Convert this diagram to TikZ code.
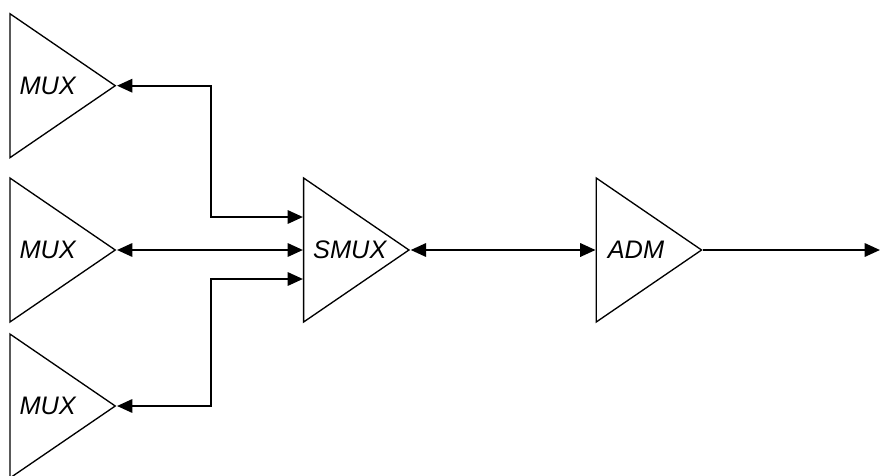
\documentclass[tikz,border=0pt]{standalone}
\usepackage{fontspec}
\setmainfont{Liberation Sans}
\usetikzlibrary{shapes.geometric,arrows.meta,positioning,calc}

\begin{document}
\begin{tikzpicture}[
    x=0.75pt,y=-0.75pt,
    >={Triangle[length=11.5pt,width=10pt]},
    block/.style={draw,line width=1pt,isosceles triangle,isosceles triangle stretches,
        minimum width=108pt,minimum height=79pt,inner sep=0pt,anchor=apex},
    lbl/.style={font=\fontsize{19}{22}\selectfont\itshape,inner sep=0pt},
    link/.style={line width=1.7pt}
]
\useasboundingbox (0,0) rectangle (881,475);

% triangles
\node[block] (mux1) at (117,85.7) {};
\node[block] (mux2) at (117,250) {};
\node[block] (mux3) at (117,406) {};
\node[block] (smux) at (410.7,250) {};
\node[block] (adm)  at (703.3,250) {};

% labels
\node[lbl,right=7.5pt of mux1.lower side] (mux1txt) {MUX};
\node[lbl,right=7.5pt of mux2.lower side] (mux2txt) {MUX};
\node[lbl,right=7.5pt of mux3.lower side] (mux3txt) {MUX};
\node[lbl,right=7.5pt of smux.lower side] (smuxtxt) {SMUX};
\node[lbl,right=9pt of adm.lower side] (admtxt) {ADM};

% inputs of SMUX and the bus line
\coordinate (in1) at ($(smux.lower side)+(0,-33)$);
\coordinate (in3) at ($(smux.lower side)+(0,29)$);
\coordinate (bus) at (210.7,0);
\coordinate (out) at (880,250);

% connectors
\draw[link,<->] (mux1.apex) -| (bus |- in1) -- (in1);
\draw[link,<->] (mux2.apex) -- (smux.lower side);
\draw[link,<->] (mux3.apex) -| (bus |- in3) -- (in3);
\draw[link,<->] (smux.apex) -- (adm.lower side);
\draw[link,->] (adm.apex) -- (out);

\end{tikzpicture}
\end{document}
